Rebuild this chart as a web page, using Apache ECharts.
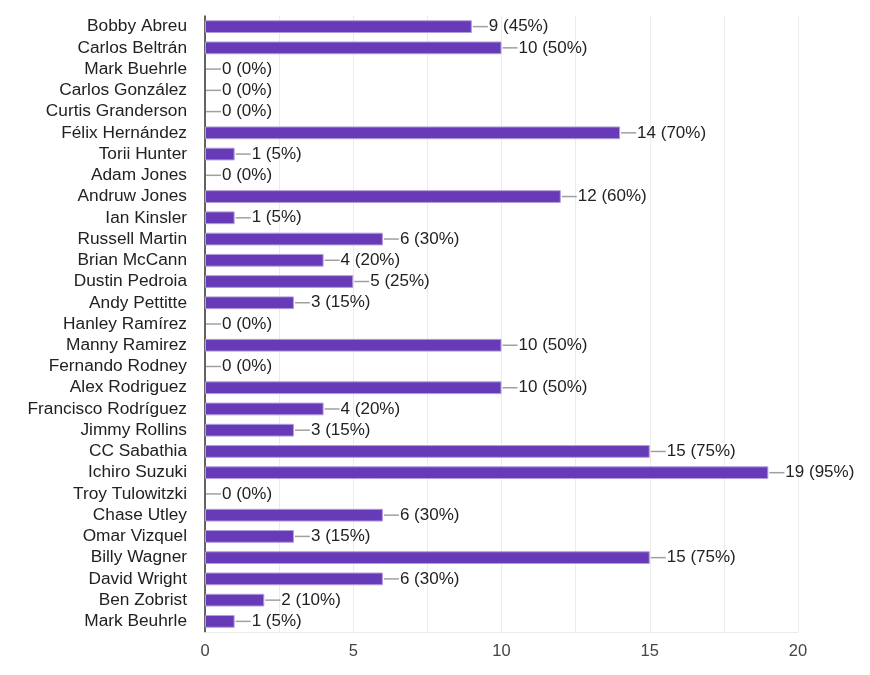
<!DOCTYPE html>
<html>
<head>
<meta charset="utf-8">
<script src="https://cdn.jsdelivr.net/npm/echarts@6/dist/echarts.min.js"></script>
<style>
  html, body { margin: 0; padding: 0; background: #fff; }
  #chart { width: 870px; height: 675px; }
</style>
</head>
<body>
<div id="chart"></div>
<script>
var players = ["Bobby Abreu", "Carlos Beltrán", "Mark Buehrle", "Carlos González", "Curtis Granderson",
  "Félix Hernández", "Torii Hunter", "Adam Jones", "Andruw Jones", "Ian Kinsler", "Russell Martin",
  "Brian McCann", "Dustin Pedroia", "Andy Pettitte", "Hanley Ramírez", "Manny Ramirez", "Fernando Rodney",
  "Alex Rodriguez", "Francisco Rodríguez", "Jimmy Rollins", "CC Sabathia", "Ichiro Suzuki",
  "Troy Tulowitzki", "Chase Utley", "Omar Vizquel", "Billy Wagner", "David Wright", "Ben Zobrist",
  "Mark Beuhrle"];
var votes = [9, 10, 0, 0, 0, 14, 1, 0, 12, 1, 6, 4, 5, 3, 0, 10, 0, 10, 4, 3, 15, 19, 0, 6, 3, 15, 6, 2, 1];
var percents = [45, 50, 0, 0, 0, 70, 5, 0, 60, 5, 30, 20, 25, 15, 0, 50, 0, 50, 20, 15, 75, 95, 0, 30, 15, 75, 30, 10, 5];
var xTicks = [0, 5, 10, 15, 20];

var chart = echarts.init(document.getElementById('chart'));
var font = '"Liberation Sans", Arial, sans-serif';

// zero-vote rows get no bar outline
var barData = votes.map(function (v) {
  return v === 0 ? { value: v, itemStyle: { borderWidth: 0 } } : v;
});

chart.setOption({
  animation: false,
  grid: { left: 205, right: 72, top: 16, bottom: 43, containLabel: false },
  xAxis: {
    type: 'value',
    min: xTicks[0],
    max: xTicks[xTicks.length - 1],
    interval: 2.5,
    axisLine: { show: true, lineStyle: { color: '#ebebeb', width: 1 } },
    axisTick: { show: false },
    axisLabel: {
      color: '#444',
      fontFamily: font,
      fontSize: 16.5,
      margin: 11,
      formatter: function (v) { return xTicks.indexOf(v) >= 0 ? String(v) : ''; }
    },
    splitLine: { show: true, lineStyle: { color: '#ebebeb', width: 1 } }
  },
  yAxis: {
    type: 'category',
    data: players,
    inverse: true,
    axisLine: { show: true, lineStyle: { color: '#333', width: 1.5 } },
    axisTick: { show: false },
    axisLabel: { interval: 0, color: '#222', fontFamily: font, fontSize: 17.3, margin: 18 }
  },
  series: [{
    type: 'bar',
    data: barData,
    barCategoryGap: '40%',
    itemStyle: { color: '#673ab7', borderColor: '#b39ddb', borderWidth: 1 },
    label: {
      show: true,
      position: 'right',
      distance: 1,
      fontFamily: font,
      formatter: function (p) {
        return '{ln|}{t|' + p.value + ' (' + percents[p.dataIndex] + '%)}';
      },
      rich: {
        ln: { width: 15, height: 1.5, backgroundColor: '#a0a0a0', verticalAlign: 'middle' },
        t: { color: '#222', fontSize: 17, fontFamily: font, padding: [0, 0, 0, 1] }
      }
    }
  }]
});
</script>
</body>
</html>
